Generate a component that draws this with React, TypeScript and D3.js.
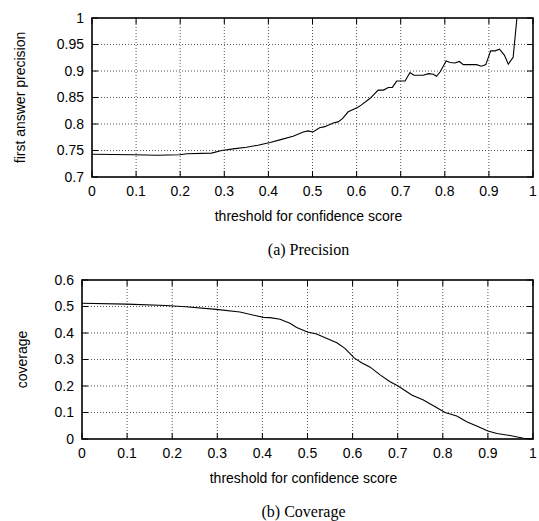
import React from "react";
import * as d3 from "d3";

// precision curve (threshold, precision)
const precisionX = [0, 0.094, 0.147, 0.199, 0.215, 0.271, 0.294, 0.32, 0.35, 0.376, 0.404, 0.43, 0.456, 0.479, 0.49, 0.501, 0.516, 0.528, 0.547, 0.558, 0.568, 0.581, 0.602, 0.611, 0.63, 0.649, 0.661, 0.672, 0.681, 0.691, 0.71, 0.721, 0.73, 0.751, 0.763, 0.774, 0.781, 0.79, 0.803, 0.812, 0.823, 0.833, 0.842, 0.857, 0.872, 0.883, 0.893, 0.904, 0.914, 0.924, 0.935, 0.944, 0.955, 0.967];
const precisionY = [0.743, 0.742, 0.741, 0.742, 0.744, 0.745, 0.75, 0.753, 0.756, 0.76, 0.765, 0.771, 0.777, 0.785, 0.787, 0.785, 0.793, 0.795, 0.802, 0.804, 0.81, 0.823, 0.831, 0.836, 0.848, 0.864, 0.864, 0.869, 0.869, 0.881, 0.881, 0.897, 0.892, 0.892, 0.895, 0.894, 0.89, 0.899, 0.919, 0.916, 0.915, 0.918, 0.912, 0.912, 0.912, 0.909, 0.912, 0.938, 0.938, 0.941, 0.93, 0.913, 0.926, 1.03];

// coverage curve
const coverageX = [0, 0.099, 0.186, 0.23, 0.298, 0.35, 0.402, 0.417, 0.439, 0.461, 0.476, 0.5, 0.52, 0.542, 0.565, 0.583, 0.604, 0.62, 0.639, 0.661, 0.683, 0.701, 0.731, 0.757, 0.783, 0.805, 0.831, 0.853, 0.879, 0.9, 0.92, 0.949, 0.979, 1.0];
const coverageY = [0.512, 0.509, 0.504, 0.499, 0.489, 0.479, 0.459, 0.458, 0.452, 0.437, 0.421, 0.404, 0.396, 0.38, 0.363, 0.342, 0.305, 0.288, 0.271, 0.242, 0.216, 0.2, 0.166, 0.147, 0.122, 0.1, 0.087, 0.065, 0.046, 0.03, 0.021, 0.013, 0.003, 0.0];

const xTicks = [0, 0.1, 0.2, 0.3, 0.4, 0.5, 0.6, 0.7, 0.8, 0.9, 1];
const precisionTicks = [0.7, 0.75, 0.8, 0.85, 0.9, 0.95, 1];
const coverageTicks = [0, 0.1, 0.2, 0.3, 0.4, 0.5, 0.6];

const sans = "'Liberation Sans', Arial, sans-serif";
const serif = "'Liberation Serif', 'Times New Roman', serif";

const Panel = ({ id, left, right, top, bottom, xs, ys, yDomain, yTicks, yLabel, labelX, caption }) => {
  const x = d3.scaleLinear().domain([0, 1]).range([left, right]);
  const y = d3.scaleLinear().domain(yDomain).range([bottom, top]);
  const line = d3
    .line()
    .x(d => x(d[0]))
    .y(d => y(d[1]));
  const pts = xs.map((v, i) => [v, ys[i]]);
  const tick = 6;
  return (
    <g>
      <defs>
        <clipPath id={id}>
          <rect x={left} y={top} width={right - left} height={bottom - top} />
        </clipPath>
      </defs>
      {/* grid */}
      {xTicks.slice(1, -1).map(t => (
        <line key={"gx" + t} x1={x(t)} x2={x(t)} y1={top} y2={bottom} stroke="#555" strokeWidth={1} strokeDasharray="1,2" />
      ))}
      {yTicks.slice(1, -1).map(t => (
        <line key={"gy" + t} x1={left} x2={right} y1={y(t)} y2={y(t)} stroke="#555" strokeWidth={1} strokeDasharray="1,2" />
      ))}
      {/* inward ticks */}
      {xTicks.map(t => (
        <g key={"tx" + t}>
          <line x1={x(t)} x2={x(t)} y1={bottom} y2={bottom - tick} stroke="#000" />
          <line x1={x(t)} x2={x(t)} y1={top} y2={top + tick} stroke="#000" />
          <text x={x(t)} y={bottom + 19} textAnchor="middle" fontFamily={sans} fontSize={14}>
            {String(t)}
          </text>
        </g>
      ))}
      {yTicks.map(t => (
        <g key={"ty" + t}>
          <line x1={left} x2={left + tick} y1={y(t)} y2={y(t)} stroke="#000" />
          <line x1={right} x2={right - tick} y1={y(t)} y2={y(t)} stroke="#000" />
          <text x={left - 8} y={y(t)} dy="0.35em" textAnchor="end" fontFamily={sans} fontSize={14}>
            {String(t)}
          </text>
        </g>
      ))}
      <path d={line(pts)} fill="none" stroke="#000" strokeWidth={1.1} clipPath={`url(#${id})`} />
      <rect x={left} y={top} width={right - left} height={bottom - top} fill="none" stroke="#000" strokeWidth={1.6} />
      <text
        transform={`translate(${labelX},${(top + bottom) / 2}) rotate(-90)`}
        textAnchor="middle"
        fontFamily={sans}
        fontSize={14}
        dy="0.35em"
      >
        {yLabel}
      </text>
      <text x={(left + right) / 2 - 4} y={bottom + 44} textAnchor="middle" fontFamily={sans} fontSize={14}>
        threshold for confidence score
      </text>
      <text x={(left + right) / 2 - 4} y={bottom + 78} textAnchor="middle" fontFamily={serif} fontSize={16}>
        {caption}
      </text>
    </g>
  );
};

export default function App() {
  return (
    <svg width={539} height={521} style={{ position: "absolute", left: 0, top: 0, background: "#fff" }}>
      <rect width={539} height={521} fill="#fff" />
      <Panel
        id="clipA"
        left={92}
        right={533}
        top={18}
        bottom={177}
        xs={precisionX}
        ys={precisionY}
        yDomain={[0.7, 1]}
        yTicks={precisionTicks}
        yLabel="first answer precision"
        labelX={20}
        caption="(a) Precision"
      />
      <Panel
        id="clipB"
        left={82}
        right={533}
        top={280}
        bottom={439}
        xs={coverageX}
        ys={coverageY}
        yDomain={[0, 0.6]}
        yTicks={coverageTicks}
        yLabel="coverage"
        labelX={22}
        caption="(b) Coverage"
      />
    </svg>
  );
}
